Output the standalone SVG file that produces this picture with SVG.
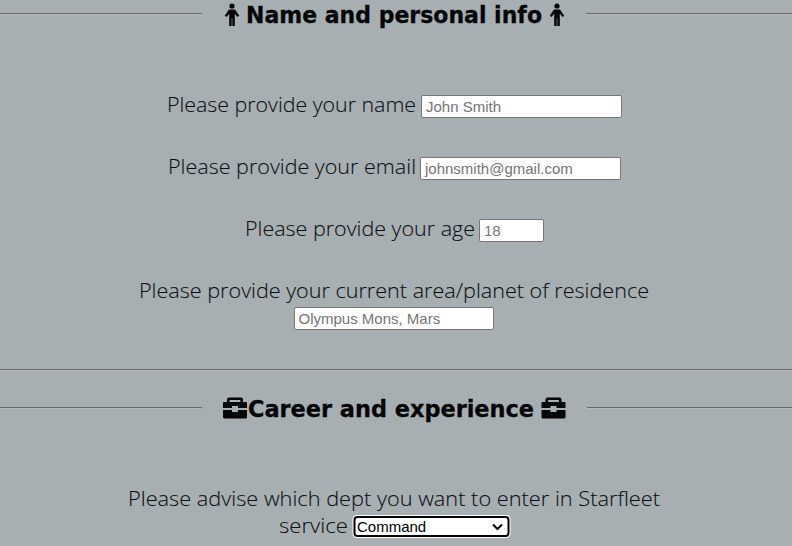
<svg xmlns="http://www.w3.org/2000/svg" width="792" height="546" viewBox="0 0 792 546">
<style>
.bg{fill:#a8afb3}
.rule{stroke:#6a666c;stroke-width:1;fill:none}
.rule2{stroke:#b4b9bc;stroke-width:1;fill:none}
.lab{font-family:"Open Sans","Noto Sans",sans-serif;font-weight:300;font-size:21px;fill:#0b0f12;stroke:#0b0f12;stroke-width:.1px}
.hd{font-family:"DejaVu Sans",sans-serif;font-weight:700;font-size:22.500px;fill:#050608;stroke:#050608;stroke-width:.3px}
.inp{fill:#fff;stroke:#767676;stroke-width:1}
.ph{font-family:"Liberation Sans",Arial,sans-serif;font-size:15px;fill:#757575}
.ico{fill:#050608}
</style>
<defs>
<g id="person"><circle cx="0" cy="-9" r="2.600"/><path d="M-3-5.500h6l4.300 6.300-1.800 1.300-2.700-3.400V11h-2.500V3.500h-.6V11h-2.500V-1.300L-5.500 2.100l-1.800-1.300z"/></g>
<g id="case"><path d="M-6-11.500h12a2 2 0 0 1 2 2V-7h-2.600V-9h-10.800V-7H-8v-2.500a2 2 0 0 1 2-2z"/><path d="M-11-7h22a1 1 0 0 1 1 1V-1H3V-3H-3V-1H-12V-6a1 1 0 0 1 1-1zM-12 1H-3V3H3V1H12V8a1.500 1.500 0 0 1-1.500 1.500h-21A1.500 1.500 0 0 1-12 8z"/></g>
</defs>
<rect class="bg" width="792" height="546"/>
<g id="connectors">
<path class="rule" d="M0 13.500H202M586 13.500H792M0 369.500H792M0 407.500H202M587 407.500H792"/>
<path class="rule2" d="M0 14.500H202M586 14.500H792M0 370.500H792M0 408.500H202M587 408.500H792"/>
</g>
<g id="heading-personal">
<use href="#person" class="ico" x="232" y="15"/>
<text class="hd" x="246" y="23" textLength="296" lengthAdjust="spacingAndGlyphs">Name and personal info</text>
<use href="#person" class="ico" x="557" y="15"/>
</g>
<g id="field-name">
<text class="lab" x="167" y="112" textLength="249" lengthAdjust="spacingAndGlyphs">Please provide your name</text>
<rect class="inp" x="421.500" y="95.500" width="200" height="22" rx="1.500"/>
<text class="ph" x="426" y="112">John Smith</text>
</g>
<g id="field-email">
<text class="lab" x="168" y="174" textLength="248" lengthAdjust="spacingAndGlyphs">Please provide your email</text>
<rect class="inp" x="420.500" y="157.500" width="200" height="22" rx="1.500"/>
<text class="ph" x="425" y="174">johnsmith@gmail.com</text>
</g>
<g id="field-age">
<text class="lab" x="245" y="236" textLength="230" lengthAdjust="spacingAndGlyphs">Please provide your age</text>
<rect class="inp" x="479.500" y="219.500" width="64" height="22" rx="1.500"/>
<text class="ph" x="484" y="236">18</text>
</g>
<g id="field-residence">
<text class="lab" x="139" y="298" textLength="510" lengthAdjust="spacingAndGlyphs">Please provide your current area/planet of residence</text>
<rect class="inp" x="294.500" y="307.500" width="199" height="22" rx="1.500"/>
<text class="ph" x="298.500" y="324">Olympus Mons, Mars</text>
</g>
<g id="heading-career">
<use href="#case" class="ico" x="235" y="409"/>
<text class="hd" x="248" y="417" textLength="286" lengthAdjust="spacingAndGlyphs">Career and experience</text>
<use href="#case" class="ico" x="553.500" y="409"/>
</g>
<g id="field-dept">
<text class="lab" x="128" y="506" textLength="532" lengthAdjust="spacingAndGlyphs">Please advise which dept you want to enter in Starfleet</text>
<text class="lab" x="279" y="533" textLength="69" lengthAdjust="spacingAndGlyphs">service</text>
<rect x="352.500" y="515" width="158" height="23" rx="4.500" fill="#fff"/>
<rect x="354.500" y="517" width="154" height="19" rx="3" fill="#fff" stroke="#000" stroke-width="2"/>
<text x="357" y="532" font-family="Liberation Sans,Arial,sans-serif" font-size="15" fill="#000">Command</text>
<path d="M493 524.500l4.500 4.500 4.500-4.500" fill="none" stroke="#000" stroke-width="2"/>
</g>
</svg>
